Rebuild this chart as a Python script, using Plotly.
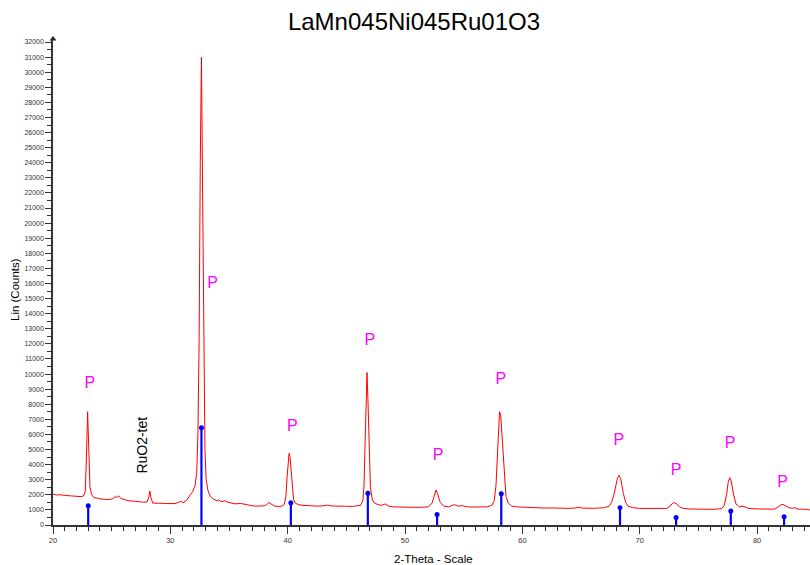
import plotly.graph_objects as go

two_theta = [
    20.0, 20.3, 20.6, 20.9, 21.2, 21.5, 21.8, 22.1, 22.4, 22.6, 22.75, 22.85, 22.95, 23.05, 23.15, 23.3,
    23.5, 23.8, 24.1, 24.5, 24.8, 25.1, 25.3, 25.45, 25.6, 25.8, 26.1, 26.5, 26.9, 27.3, 27.7, 28.0,
    28.15, 28.25, 28.35, 28.5, 28.8, 29.2, 29.6, 30.0, 30.4, 30.7, 30.9, 31.1, 31.4, 31.7, 31.9, 32.1,
    32.25, 32.35, 32.45, 32.55, 32.65, 32.75, 32.85, 32.95, 33.05, 33.2, 33.4, 33.7, 34.0, 34.1,
    34.3, 34.7, 34.9, 35.3, 35.6, 36.0, 36.4, 36.8, 37.2, 37.6, 38.0, 38.2, 38.4, 38.6, 38.9, 39.2,
    39.5, 39.7, 39.85, 39.95, 40.05, 40.12, 40.2, 40.3, 40.4, 40.5, 40.65, 40.9, 41.3, 41.7, 42.1,
    42.5, 43.0, 43.4, 43.7, 44.1, 44.5, 45.0, 45.5, 45.9, 46.2, 46.4, 46.5, 46.6, 46.7, 46.76, 46.85,
    46.95, 47.05, 47.2, 47.4, 47.7, 48.0, 48.3, 48.6, 49.0, 49.5, 50.0, 50.5, 51.0, 51.5, 52.0, 52.3,
    52.5, 52.64, 52.8, 53.0, 53.3, 53.7, 54.2, 54.5, 54.9, 55.3, 55.7, 56.2, 56.6, 57.0, 57.4, 57.6,
    57.75, 57.85, 57.95, 58.05, 58.15, 58.3, 58.45, 58.6, 58.8, 59.1, 59.5, 60.0, 60.5, 61.0, 61.5,
    62.0, 62.5, 63.0, 63.5, 64.0, 64.5, 64.8, 65.1, 65.5, 66.0, 66.5, 67.0, 67.4, 67.6, 67.8, 67.95,
    68.1, 68.24, 68.4, 68.6, 68.8, 69.0, 69.4, 70.0, 70.5, 71.0, 71.5, 72.0, 72.3, 72.6, 72.8, 72.95,
    73.15, 73.4, 73.7, 74.2, 74.7, 75.2, 75.7, 76.2, 76.7, 77.0, 77.2, 77.4, 77.55, 77.67, 77.8, 78.0,
    78.2, 78.5, 78.8, 79.3, 79.8, 80.3, 80.8, 81.2, 81.5, 81.8, 82.0, 82.2, 82.4, 82.7, 83.0, 83.2,
    83.5, 84.0, 84.5,
]
counts = [
    2050, 1990, 2000, 1960, 1950, 1930, 1900, 1920, 1880, 1920, 2200, 4500, 7500, 5000, 2500, 2000,
    1800, 1780, 1720, 1700, 1680, 1750, 1880, 1820, 1930, 1750, 1680, 1600, 1580, 1530, 1510, 1520,
    1800, 2250, 1800, 1450, 1460, 1440, 1420, 1400, 1420, 1500, 1560, 1480, 1650, 2000, 2200, 2600,
    3500, 6000, 12000, 24000, 31000, 22000, 10000, 5000, 3000, 2300, 1900, 1700, 1600, 1680,
    1550, 1600, 1500, 1420, 1400, 1430, 1350, 1300, 1250, 1250, 1270, 1350, 1500, 1380, 1250, 1230,
    1250, 1350, 1900, 3200, 4400, 4750, 4500, 3600, 2400, 1700, 1450, 1350, 1300, 1280, 1260,
    1250, 1270, 1320, 1260, 1240, 1220, 1240, 1230, 1260, 1300, 1600, 2500, 5500, 9800, 10100, 8000,
    4500, 2500, 1700, 1450, 1350, 1300, 1400, 1250, 1200, 1180, 1160, 1180, 1170, 1180, 1200, 1450,
    2000, 2320, 2000, 1500, 1250, 1200, 1350, 1250, 1280, 1200, 1190, 1180, 1190, 1200, 1300, 1600,
    2600, 4200, 6500, 7500, 7300, 5500, 3000, 1900, 1450, 1250, 1200, 1180, 1150, 1130, 1140,
    1120, 1130, 1110, 1120, 1100, 1130, 1180, 1120, 1100, 1110, 1120, 1150, 1250, 1500, 2000, 2500,
    3100, 3290, 3000, 2100, 1500, 1250, 1150, 1100, 1090, 1080, 1090, 1080, 1100, 1250, 1450, 1480,
    1400, 1200, 1100, 1060, 1050, 1040, 1050, 1040, 1060, 1100, 1300, 2000, 2900, 3130, 2900, 2000,
    1400, 1200, 1250, 1100, 1070, 1050, 1040, 1030, 1050, 1200, 1330, 1370, 1300, 1150, 1100, 1150,
    1050, 1050, 1000,
]

# Reference stick pattern (perovskite phase)
ref_theta = [23.0, 32.65, 40.27, 46.83, 52.73, 58.2, 68.32, 73.1, 77.76, 82.3]
ref_counts = [1280, 6440, 1480, 2100, 700, 2070, 1150, 500, 930, 550]

# Phase labels
p_theta = [23.13, 33.61, 40.4, 47.0, 52.82, 58.17, 68.22, 73.09, 77.7, 82.18]
p_counts = [9340, 15960, 6490, 12190, 4570, 9640, 5580, 3600, 5400, 2800]
p_text = "P"
ruo2_theta = 27.55
ruo2_counts = 5300
ruo2_text = "RuO2-tet"

title_text = "LaMn045Ni045Ru01O3"
x_title = "2-Theta - Scale"
y_title = "Lin (Counts)"
x_ticks = [20, 30, 40, 50, 60, 70, 80]
y_ticks = list(range(0, 32001, 1000))
x_min, x_max = 20, 84.51
y_max = 32200

fig = go.Figure()

fig.add_trace(go.Scatter(
    x=two_theta, y=counts, mode="lines",
    line=dict(color="#ff0000", width=1), hoverinfo="skip", showlegend=False,
))

stick_x, stick_y = [], []
for t, c in zip(ref_theta, ref_counts):
    stick_x += [t, t, None]
    stick_y += [0, c, None]
fig.add_trace(go.Scatter(
    x=stick_x, y=stick_y, mode="lines",
    line=dict(color="#0000ff", width=2.2), showlegend=False, hoverinfo="skip",
))
fig.add_trace(go.Scatter(
    x=ref_theta, y=ref_counts, mode="markers",
    marker=dict(color="#0000ff", size=5), showlegend=False, hoverinfo="skip",
))

fig.add_trace(go.Scatter(
    x=p_theta, y=p_counts, mode="text", text=[p_text] * len(p_theta),
    textfont=dict(family="Liberation Sans, Arial", size=16, color="#ff00ff"),
    showlegend=False, hoverinfo="skip",
))

# arrow head on top of the y axis
fig.add_trace(go.Scatter(
    x=[x_min], y=[y_max], mode="markers", cliponaxis=False,
    marker=dict(symbol="triangle-up", size=6, color="#222222"),
    showlegend=False, hoverinfo="skip",
))

fig.add_annotation(
    x=ruo2_theta, y=ruo2_counts, text=ruo2_text, textangle=-90, showarrow=False,
    font=dict(family="Liberation Sans, Arial", size=14, color="#000000"),
)

# axis titles
fig.add_annotation(
    xref="paper", yref="paper", x=(434 - 53) / 757, y=0, yshift=-34,
    text=x_title, showarrow=False, yanchor="middle",
    font=dict(family="Liberation Sans, Arial", size=11.5, color="#000000"),
)
fig.add_annotation(
    xref="paper", yref="paper", x=0, xshift=-38, y=(525 - 290) / 486,
    text=y_title, showarrow=False, textangle=-90, xanchor="center",
    font=dict(family="Liberation Sans, Arial", size=11.5, color="#000000"),
)

fig.update_layout(
    width=810, height=565,
    margin=dict(l=53, r=0, t=39, b=40, autoexpand=False),
    paper_bgcolor="white", plot_bgcolor="white",
    font=dict(family="Liberation Sans, Arial", color="#333333"),
    title=dict(text=title_text, x=414 / 810, xref="container", xanchor="center",
               y=1 - 22 / 565, yref="container", yanchor="middle",
               font=dict(size=24, color="#000000")),
    showlegend=False,
)

fig.update_xaxes(
    range=[x_min, x_max], showgrid=False, zeroline=False, automargin=False,
    showline=True, linecolor="#333333", linewidth=1.5,
    tickmode="array", tickvals=x_ticks, ticktext=[str(v) for v in x_ticks],
    ticks="outside", ticklen=7, tickwidth=1.2, tickcolor="#333333",
    minor=dict(dtick=1, ticks="outside", ticklen=4, tickwidth=1, tickcolor="#333333"),
    tickfont=dict(size=7.5, color="#333333"),
)
fig.update_yaxes(
    range=[0, y_max], showgrid=False, zeroline=False, automargin=False,
    showline=True, linecolor="#333333", linewidth=1.5,
    tickmode="array", tickvals=y_ticks, ticktext=[str(v) for v in y_ticks],
    ticks="outside", ticklen=6, tickwidth=1.2, tickcolor="#333333",
    minor=dict(dtick=500, ticks="outside", ticklen=4, tickwidth=1, tickcolor="#333333"),
    tickfont=dict(size=7, color="#333333"),
)

fig.write_html(
    "out.html",
    config={"displayModeBar": False},
    post_script="document.body.style.margin='0';document.body.style.padding='0';",
)
